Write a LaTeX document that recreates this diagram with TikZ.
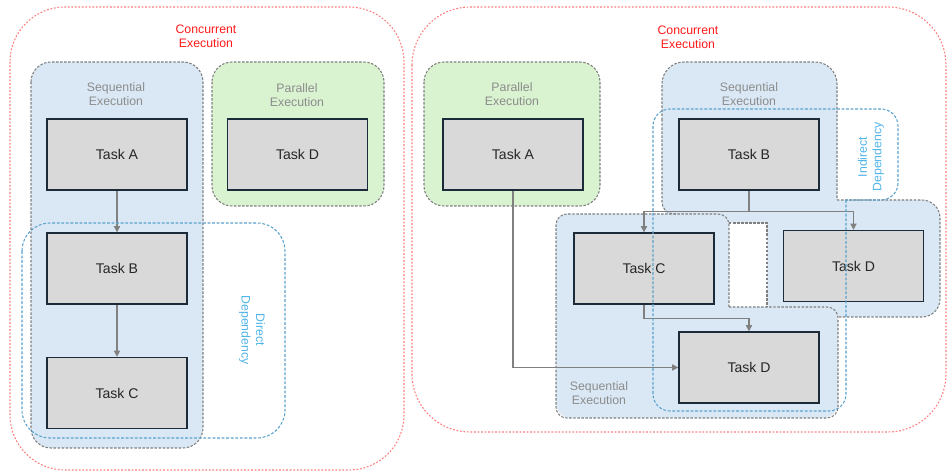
\documentclass[tikz,border=0pt]{standalone}
\usepackage{fontspec}
\setmainfont{Liberation Sans}
\usetikzlibrary{arrows.meta}
\definecolor{seqfill}{HTML}{DAE8F5}
\definecolor{parfill}{HTML}{D9F2D0}
\definecolor{taskfill}{HTML}{D9D9D9}
\definecolor{taskline}{HTML}{1C2B39}
\definecolor{graydashc}{HTML}{7F7F7F}
\definecolor{graytext}{HTML}{8C8C8C}
\definecolor{redline}{HTML}{FF7C7C}
\definecolor{redtext}{HTML}{FF1A1A}
\definecolor{blueline}{HTML}{5AA2CC}
\definecolor{bluetext}{HTML}{4FB4E8}
\definecolor{arrowc}{HTML}{808080}
\definecolor{tasktext}{HTML}{262626}
\begin{document}
\begin{tikzpicture}[x=0.02cm,y=-0.02cm,
 task/.style={draw=taskline, fill=taskfill, line width=0.8pt, minimum width=2.8cm, minimum height=1.42cm, font=\fontsize{8}{9.6}\selectfont, text=tasktext, inner sep=0pt},
 lbl/.style={font=\fontsize{7}{8.2}\selectfont, align=center, text=graytext, inner sep=0pt},
 conc/.style={lbl, text=redtext},
 dep/.style={lbl, text=bluetext},
 grayd/.style={draw=graydashc, line width=0.6pt, dash pattern=on 1.4pt off 0.9pt},
 redd/.style={draw=redline, line width=0.6pt, dash pattern=on 1pt off 1pt},
 blued/.style={draw=blueline, line width=0.6pt, dash pattern=on 1.6pt off 1pt},
 arr/.style={draw=arrowc, line width=0.7pt, -{Triangle[length=3.5pt,width=3.5pt]}},
]
\useasboundingbox (0,0) rectangle (948,472);
\clip (0,0) rectangle (948,472);

% concurrent outer boxes
\draw[redd, rounded corners=1.1cm] (10,7) rectangle (404,470);
\draw[redd, rounded corners=1.16cm] (412,7) rectangle (946,432);

% ---------- left panel ----------
\draw[grayd, fill=seqfill, rounded corners=0.4cm] (31,62) rectangle (203,448);
\draw[grayd, fill=parfill, rounded corners=0.4cm] (212,62) rectangle (384,206);
\node[conc] (lconc) at (206,36.5) {Concurrent\\Execution};
\node[lbl] (lseq) at (116,94) {Sequential\\Execution};
\node[lbl] (lpar) at (297,95) {Parallel\\Execution};

\node[task] (lA) at (117,154.5) {Task A};
\node[task] (lB) at (117,268.5) {Task B};
\node[task] (lC) at (117,393) {Task C};
\node[task] (lD) at (297.5,154.5) {Task D};
\draw[arr] (lA) -- (lB);
\draw[arr] (lB) -- (lC);

\draw[blued, rounded corners=0.56cm] (22,223) rectangle (285,438);
\node[dep, rotate=-90] (ldep) at (252,330) {Direct\\Dependency};

% ---------- right panel ----------
\draw[grayd, fill=parfill, rounded corners=0.4cm] (424,62) rectangle (600,206);

% sequential composite region
\fill[seqfill, rounded corners=0.44cm] (662,62) rectangle (837,223);
\fill[seqfill, rounded corners=0.36cm] (767,200) rectangle (940,317);
\fill[seqfill, rounded corners=0.2cm] (556,214) rectangle (729,330);
\fill[seqfill, rounded corners=0.3cm] (556,307) rectangle (838,418);
\draw[grayd, rounded corners=0.22cm] (729,307) -- (729,214) -- (556,214) -- (556,418) -- (838,418) -- (838,307) -- (729,307);
\draw[grayd] (676,214) [rounded corners=0.24cm] -- (662,214) -- (662,120);
\draw[grayd, rounded corners=0.44cm] (662,120) -- (662,62) -- (837,62) -- (837,200);
\draw[grayd, rounded corners=0.36cm] (837,200) -- (940,200) -- (940,317) -- (838,317);
\draw[grayd] (729,223) -- (767,223) -- (767,307);

\node[conc] (rconc) at (688,37.5) {Concurrent\\Execution};
\node[lbl] (rpar) at (512,94) {Parallel\\Execution};
\node[lbl] (rseqU) at (749,94) {Sequential\\Execution};
\node[lbl] (rseqL) at (599,393) {Sequential\\Execution};

\node[task] (rA) at (513,154.5) {Task A};
\node[task] (rB) at (749,154.5) {Task B};
\node[task] (rC) at (644,268.5) {Task C};
\node[task] (rD1) at (853.5,266) {Task D};
\node[task] (rD2) at (749,367.5) {Task D};

\path (rB.south) ++(0,21) coordinate (bj);
\path (rC.south) ++(0,14) coordinate (cj);
\draw[arr] (rA.south) |- (rD2.west);
\draw[arr] (rB.south) -- (bj) -| (rC.north);
\draw[arr] (bj) -| (rD1.north);
\draw[arr] (rC.south) -- (cj) -| (rD2.north);

\draw[blued, rounded corners=0.34cm] (846,200) -- (846,411) -- (653,411) -- (653,109) -- (898,109) -- (898,200) -- (846,200);
\node[dep, rotate=90] (rdep) at (871,157) {Indirect\\Dependency};
\end{tikzpicture}
\end{document}
